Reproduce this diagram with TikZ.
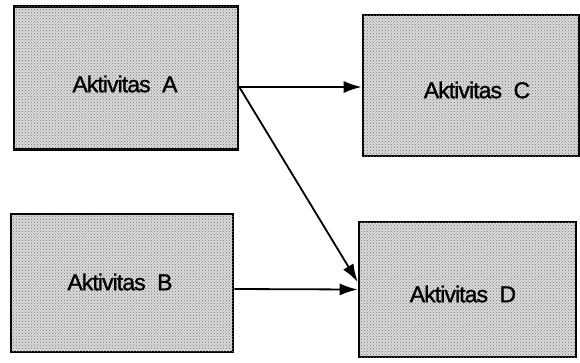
\documentclass[tikz,border=0pt]{standalone}
\usepackage{fontspec}
\setmainfont{Liberation Sans}
\usetikzlibrary{patterns,arrows.meta}
\begin{document}
\begin{tikzpicture}[x=1pt,y=-1pt,
  box/.style={draw=black,line width=2.6pt,fill=gray!28,
    postaction={pattern=crosshatch dots,pattern color=gray!90!black},
    inner sep=0pt},
  lbl/.style={font=\fontsize{23}{27}\selectfont\addfontfeature{LetterSpace=-4,FakeBold=1.2},inner sep=0pt},
  arr/.style={line width=1.8pt,-{Latex[length=18pt,width=12pt]}}]
\useasboundingbox (0,0) rectangle (580,362);
\node[box,minimum width=224pt,minimum height=143pt] (A) at (126,78) {};
\node[box,minimum width=216pt,minimum height=141pt] (C) at (471,85.5) {};
\node[box,minimum width=222pt,minimum height=138pt] (B) at (122,283) {};
\node[box,minimum width=217pt,minimum height=135pt] (D) at (467.5,289.5) {};
\node[lbl] (tA) at (125,84) {Aktivitas\hspace{0.5em}A};
\node[lbl] (tC) at (477,90) {Aktivitas\hspace{0.5em}C};
\node[lbl] (tB) at (120,282) {Aktivitas\hspace{0.5em}B};
\node[lbl] (tD) at (463,294) {Aktivitas\hspace{0.5em}D};
\draw[arr] ([yshift=-9pt]A.east) -- ([yshift=-1.5pt]C.west);
\draw[arr] ([yshift=-9pt]A.east) -- ([yshift=7.5pt]D.west);
\draw[arr] ([yshift=-6pt]B.east) -- ([yshift=0pt]D.west);
\end{tikzpicture}
\end{document}
